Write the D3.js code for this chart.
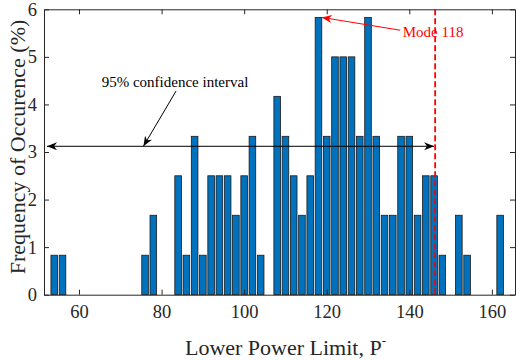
<!DOCTYPE html>
<html><head><meta charset="utf-8">
<script src="https://cdn.jsdelivr.net/npm/d3@7"></script>
<style>
body{margin:0;background:#fff;}
svg{display:block;font-family:"Liberation Serif","Times New Roman",serif;}
</style></head>
<body><svg id="c" width="516" height="360"></svg>
<script>
// Bin centres (Lower Power Limit) and frequency of occurrence (%)
const bins = [54,56,58,60,62,64,66,68,70,72,74,76,78,80,82,84,86,88,90,92,94,96,98,100,102,104,106,108,110,112,114,116,118,120,122,124,126,128,130,132,134,136,138,140,142,144,146,148,150,152,154,156,158,160,162];
const freq = [0.83,0.83,0,0,0,0,0,0,0,0,0,0.83,1.67,0,0,2.5,0.83,3.33,0.83,2.5,2.5,2.5,1.67,2.5,3.33,0.83,0,4.17,3.33,2.5,1.67,2.5,5.83,3.33,5,5,5,3.33,5.83,3.33,1.67,1.67,3.33,3.33,1.67,2.5,2.5,0.83,0,1.67,0.83,0,0,0,1.67];
const xTicks = [60,80,100,120,140,160];
const yTicks = [0,1,2,3,4,5,6];
const binWidth = 2;
const modeLabel = "Mode 118";
const ciLabel = "95% confidence interval";
const xLabel = "Lower Power Limit, P";
const yLabel = "Frequency of Occurence (%)";

const svg = d3.select("#c");
const L = 44, R = 515, T = 9.3, B = 294.7;
const x = d3.scaleLinear().domain([51.52, 165.6]).range([L, R]);
const y = d3.scaleLinear().domain([0, 6]).range([B, T]);
const axisCol = "#262626";

// bars
const bw = (x(binWidth) - x(0)) * 0.8;
svg.append("g").selectAll("rect").data(bins).join("rect")
  .attr("x", (d) => x(d) - bw/2)
  .attr("y", (d,i) => y(freq[i]))
  .attr("width", bw)
  .attr("height", (d,i) => y(0) - y(freq[i]))
  .attr("fill", "#0072BD")
  .attr("stroke", "#1a1a1a")
  .attr("stroke-width", 0.8);

// axes
const ax = svg.append("g").attr("color", axisCol);
ax.append("g").attr("transform", `translate(0,${B})`)
  .call(d3.axisBottom(x).tickValues(xTicks).tickSizeInner(-5).tickSizeOuter(0).tickPadding(10).tickFormat(d3.format("d")))
  .call(g => g.selectAll("text").attr("font-size", 18.5).attr("font-family", "Liberation Serif").attr("fill", axisCol));
ax.append("g").attr("transform", `translate(0,${T})`)
  .call(d3.axisTop(x).tickValues(xTicks).tickSizeInner(-5).tickSizeOuter(0).tickFormat(""));
ax.append("g").attr("transform", `translate(${L},0)`)
  .call(d3.axisLeft(y).tickValues(yTicks).tickSizeInner(-5).tickSizeOuter(0).tickPadding(7).tickFormat(d3.format("d")))
  .call(g => g.selectAll("text").attr("font-size", 18.5).attr("font-family", "Liberation Serif").attr("fill", axisCol));
ax.append("g").attr("transform", `translate(${R},0)`)
  .call(d3.axisRight(y).tickValues(yTicks).tickSizeInner(-5).tickSizeOuter(0).tickFormat(""));
ax.selectAll(".domain").attr("stroke", axisCol).attr("stroke-width", 1);
ax.selectAll(".tick line").attr("stroke", axisCol);

// axis labels
const xl = svg.append("text").attr("x", (L+R)/2 + 6).attr("y", 355).attr("text-anchor", "middle")
  .attr("font-size", 22).attr("fill", axisCol).text(xLabel);
xl.append("tspan").attr("font-size", 13).attr("dy", -10).text("-");
svg.append("text").attr("transform", `translate(24.5,147) rotate(-90)`)
  .attr("text-anchor", "middle").attr("font-size", 22).attr("fill", axisCol).text(yLabel);

// red dashed line
svg.append("line").attr("x1", x(146.26)).attr("x2", x(146.26)).attr("y1", T).attr("y2", B)
  .attr("stroke", "#ff0000").attr("stroke-width", 1.8).attr("stroke-dasharray", "6,3");

// arrowhead helper
function head(x1, y1, x2, y2, col) {
  const a = Math.atan2(y2 - y1, x2 - x1);
  const len = 10, w = 4;
  const bx = x2 - len*Math.cos(a), by = y2 - len*Math.sin(a);
  const mx = x2 - len*0.7*Math.cos(a), my = y2 - len*0.7*Math.sin(a);
  const px = -Math.sin(a)*w, py = Math.cos(a)*w;
  svg.append("path").attr("d", `M${x2},${y2}L${bx+px},${by+py}L${mx},${my}L${bx-px},${by-py}Z`).attr("fill", col);
}
function arrow(p1, p2, col, both) {
  const X1 = x(p1[0]), Y1 = y(p1[1]), X2 = x(p2[0]), Y2 = y(p2[1]);
  svg.append("line").attr("x1", X1).attr("y1", Y1).attr("x2", X2).attr("y2", Y2)
    .attr("stroke", col).attr("stroke-width", 1);
  head(X1, Y1, X2, Y2, col);
  if (both) head(X2, Y2, X1, Y1, col);
}
// confidence interval double arrow
arrow([52.25, 3.12], [146.0, 3.12], "#000", true);
// pointer from CI text
arrow([83.5, 4.28], [75.6, 3.12], "#000", false);
svg.append("text").attr("x", x(65.5)).attr("y", y(4.37)).attr("font-size", 15).attr("fill", "#000").text(ciLabel);
// mode arrow
arrow([137.8, 5.56], [118.8, 5.83], "#ff0000", false);
svg.append("text").attr("x", x(138.4)).attr("y", y(5.42)).attr("font-size", 15).attr("fill", "#ff0000").text(modeLabel);
</script></body></html>
